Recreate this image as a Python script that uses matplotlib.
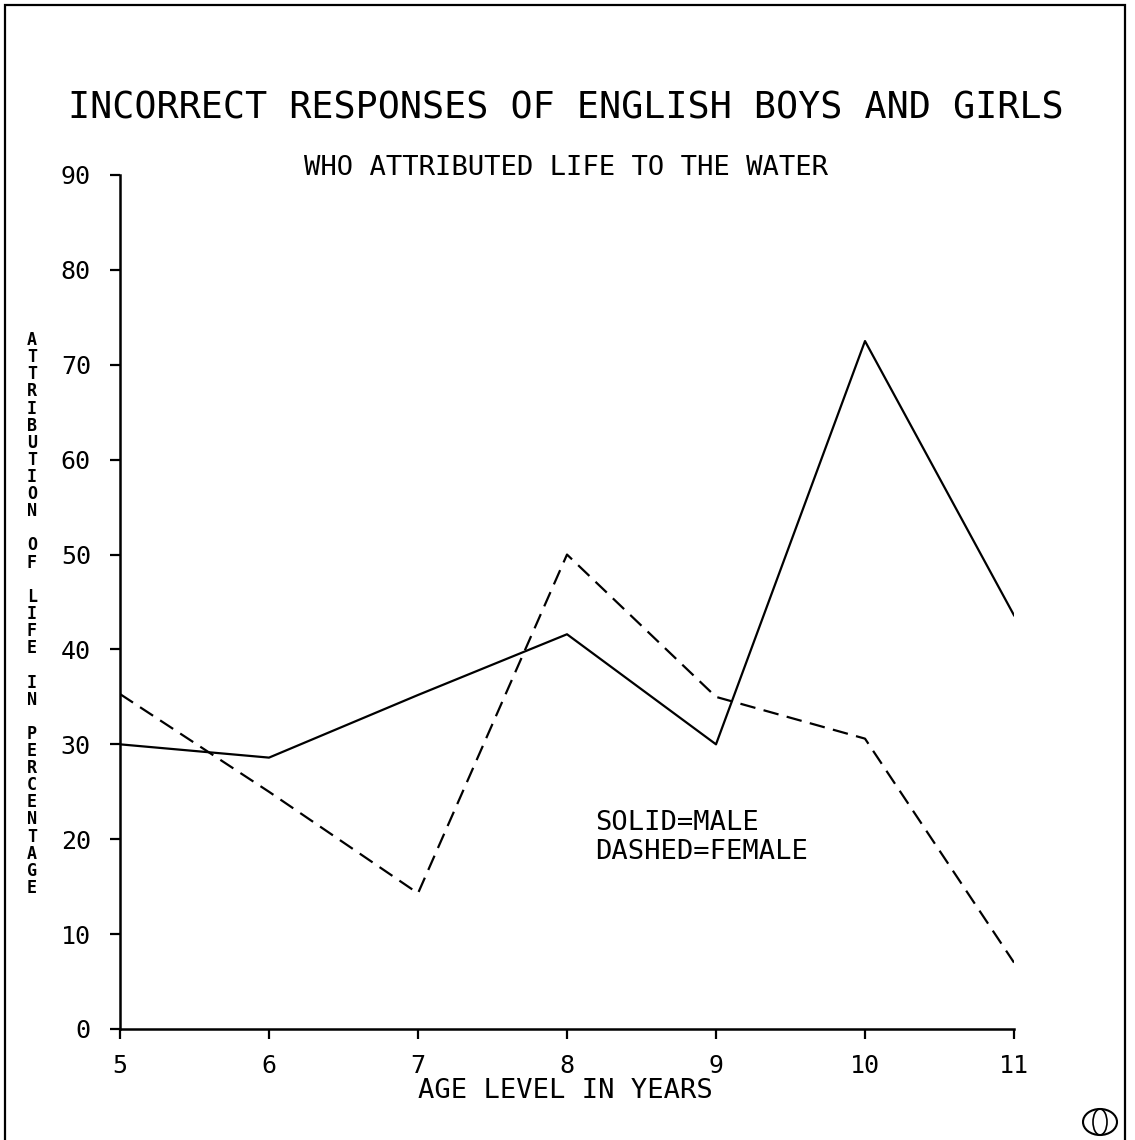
import numpy as np
import matplotlib.pyplot as plt
from matplotlib.patches import Rectangle, Ellipse

# ages and percentages
ages = [5, 6, 7, 8, 9, 10, 11]
male = [30.0, 28.6, 35.2, 41.6, 30.0, 72.5, 43.6]
female = [35.3, 25.0, 14.3, 50.0, 35.0, 30.6, 7.0]
yticks = [0, 10, 20, 30, 40, 50, 60, 70, 80, 90]

title = "INCORRECT RESPONSES OF ENGLISH BOYS AND GIRLS"
subtitle = "WHO ATTRIBUTED LIFE TO THE WATER"
xlabel = "AGE LEVEL IN YEARS"
ylabel = "ATTRIBUTION OF LIFE IN PERCENTAGE"
legend_lines = ["SOLID=MALE", "DASHED=FEMALE"]

plt.rcParams['font.family'] = ['DejaVu Sans Mono', 'DejaVu Sans']

W, H = 1135, 1140
fig = plt.figure(figsize=(W/100, H/100), dpi=100)
ax = fig.add_axes([120/W, 1-1029/H, (1014-120)/W, (1029-175)/H])

ax.plot(ages, male, color='black', lw=1.6)
ax.plot(ages, female, color='black', lw=1.6, dashes=(7, 3.8))

ax.set_xlim(5, 11)
ax.set_ylim(0, 90)
ax.set_xticks(ages)
ax.set_yticks(yticks)
ax.tick_params(axis='both', direction='out', length=7, width=1.6, labelsize=18, colors='black')
ax.tick_params(axis='y', pad=14)
ax.tick_params(axis='x', pad=11)
for s in ['top', 'right']:
    ax.spines[s].set_visible(False)
for s in ['left', 'bottom']:
    ax.spines[s].set_linewidth(1.8)

fig.text(566/W, 1-108/H, title, ha='center', va='center', fontsize=26.5)
fig.text(566/W, 1-168/H, subtitle, ha='center', va='center', fontsize=19.6)
fig.text(565/W, 1-1091/H, xlabel, ha='center', va='center', fontsize=19.5)
fig.text(595/W, 1-823/H, legend_lines[0], ha='left', va='center', fontsize=19.5)
fig.text(595/W, 1-852/H, legend_lines[1], ha='left', va='center', fontsize=19.5)

# stacked vertical y label
step = (888-340)/(len(ylabel)-1)
for i, ch in enumerate(ylabel):
    fig.text(32/W, 1-(340+i*step)/H, ch, ha='center', va='center', fontsize=12, fontweight='bold')

# outer frame
fig.patches.append(Rectangle((5/W, -0.02), (1125-5)/W, 1.02-5/H, transform=fig.transFigure,
                             fill=False, edgecolor='black', lw=1.6, clip_on=False))

# little globe mark in the corner
fig.patches.append(Ellipse((1100/W, 1-1122/H), 34/W, 26/H, transform=fig.transFigure,
                           fill=False, edgecolor='black', lw=1.5))
fig.patches.append(Ellipse((1100/W, 1-1122/H), 14/W, 26/H, transform=fig.transFigure,
                           fill=False, edgecolor='black', lw=1.2))

fig.savefig('out.png', dpi=100)
